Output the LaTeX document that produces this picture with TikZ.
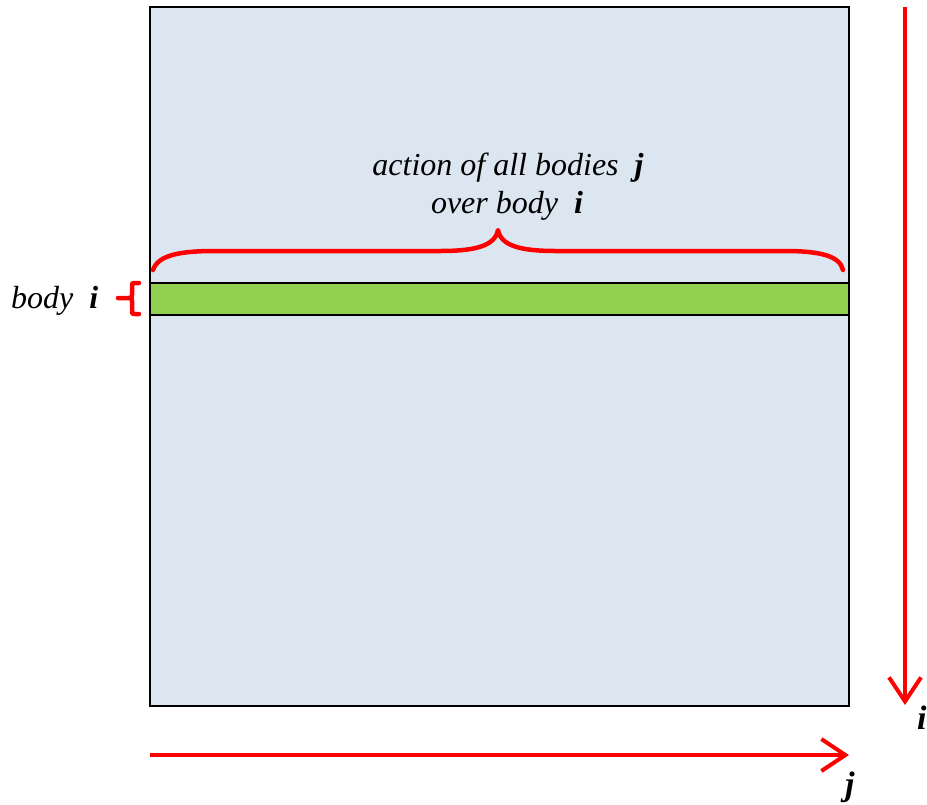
\documentclass[tikz,border=0pt]{standalone}
\usepackage{fontspec}
\setmainfont{Liberation Serif}
\usetikzlibrary{arrows.meta}
\definecolor{matrixfill}{RGB}{220,230,241}
\definecolor{rowfill}{RGB}{146,208,80}
\definecolor{axisred}{RGB}{255,0,0}
\newcommand{\bvar}[1]{\textbf{\textit{#1}}}
\tikzset{
  cell/.style={draw=black, line width=1.5pt},
  axis/.style={draw=axisred, line width=4pt, -{Straight Barb[length=24pt,width=32pt,line width=4pt]}},
  redbrace/.style={draw=axisred, line width=4.5pt, line join=round, line cap=round},
  lbl/.style={font=\fontsize{32}{38}\selectfont\itshape, inner sep=0pt, align=center},
  axlbl/.style={font=\fontsize{34}{38}\selectfont\bfseries\itshape, inner sep=0pt}
}
\begin{document}
\begin{tikzpicture}[x=1pt, y=-1pt]
  \useasboundingbox (0,0) rectangle (927,804);
  % interaction matrix and highlighted row
  \path[cell, fill=matrixfill] (150,7) rectangle (849,706);
  \path[cell, fill=rowfill] (150,283) rectangle (849,315);
  % brace spanning the whole row
  \draw[redbrace] (153,270) .. controls (158,255) and (180,251) .. (215,251)
    -- (440,251) .. controls (475,251) and (495,246) .. (498,230)
    .. controls (501,246) and (521,251) .. (556,251)
    -- (785,251) .. controls (820,251) and (840,256) .. (843,270);
  % small brace marking body i
  \draw[redbrace] (139,283) -- (135,283) .. controls (132,283) .. (132,286)
    -- (132,295) .. controls (132,298) .. (128,298) -- (118,298) -- (128,298)
    .. controls (132,298) .. (132,301) -- (132,311)
    .. controls (132,314) .. (135,314) -- (139,314);
  % labels
  \node[lbl, anchor=base] (act) at (508,175) {action of all bodies\ \ \bvar{j}};
  \node[lbl, anchor=base] (over) at (507,213) {over body\ \ \bvar{i}};
  \node[lbl, anchor=base west] (bi) at (11,308) {body\ \ \bvar{i}};
  % axes
  \coordinate (ai0) at (905,7);
  \coordinate (ai1) at (905,705);
  \coordinate (aj0) at (150,755);
  \coordinate (aj1) at (849,755);
  \draw[axis] (ai0) -- (ai1);
  \draw[axis] (aj0) -- (aj1);
  \node[axlbl, anchor=base west] (li) at (917,729) {i};
  \node[axlbl, anchor=base west] (lj) at (845,795) {j};
\end{tikzpicture}
\end{document}
